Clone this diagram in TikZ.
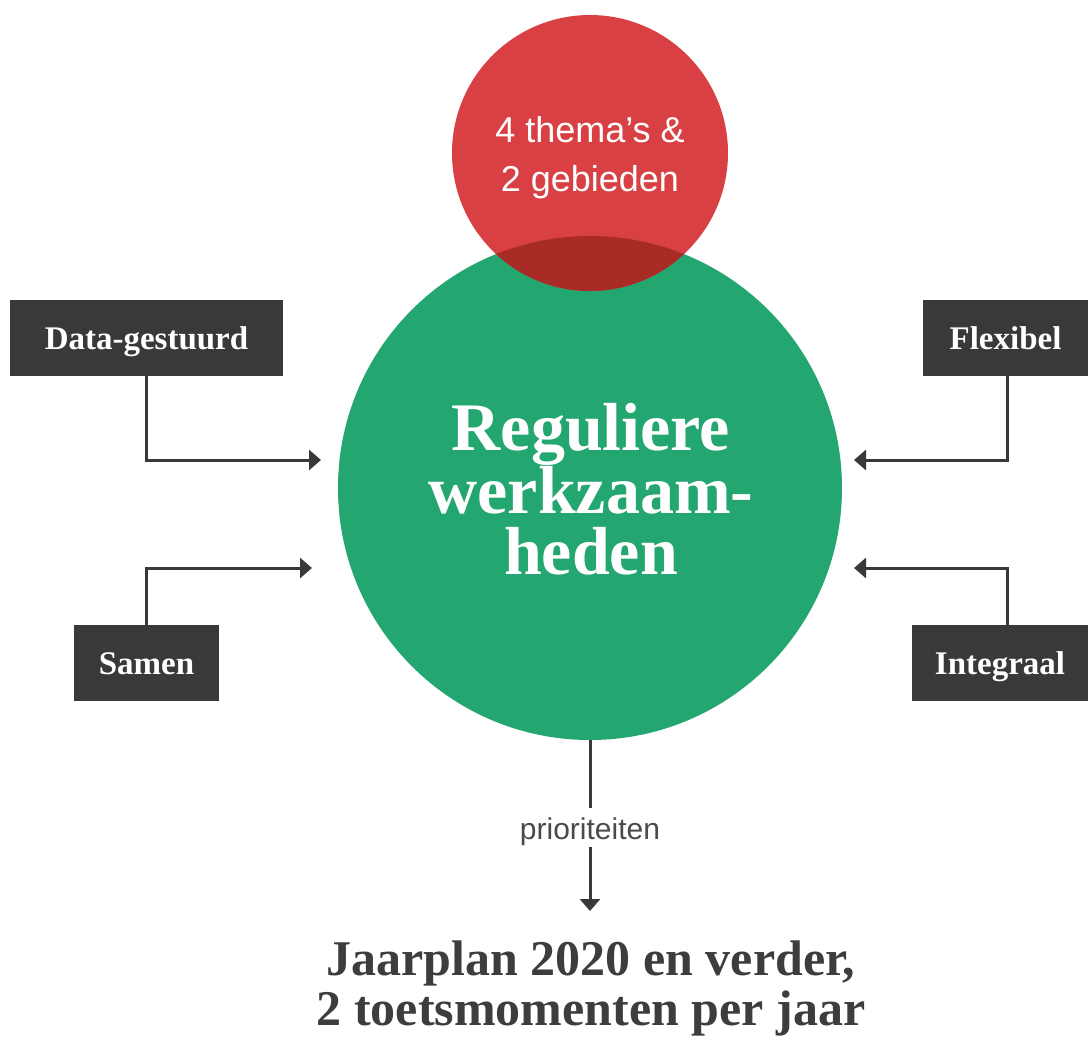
\documentclass[tikz,border=0pt]{standalone}
\usepackage{fontspec}
\setmainfont{Liberation Serif}
\newfontfamily\sansf{Liberation Sans}
\usetikzlibrary{arrows.meta}
\definecolor{grn}{HTML}{23A670}
\definecolor{rd}{HTML}{D84044}
\definecolor{ovl}{HTML}{A82B25}
\definecolor{dk}{HTML}{3A3938}
\definecolor{txtg}{HTML}{3D3D3D}
\definecolor{lbl}{HTML}{4A4A4A}
\begin{document}
\begin{tikzpicture}[x=1pt,y=-1pt,
  box/.style={fill=dk, text=white, minimum height=76pt, inner sep=0pt,
    text height=23pt, text depth=0pt,
    font=\fontsize{33}{40}\selectfont\bfseries},
  wire/.style={draw=dk, line width=3pt},
  conn/.style={wire, -{Triangle[width=20pt,length=12pt]}}]
\path[use as bounding box] (0,0) rectangle (1088,1037);
% circles
\node[circle, fill=grn, minimum size=504pt, inner sep=0pt] (green) at (590,488) {};
\node[circle, fill=rd, minimum size=276pt, inner sep=0pt] (red) at (590,153) {};
\begin{scope}
  \clip (590,488) circle (252pt);
  \fill[ovl] (590,153) circle (138pt);
\end{scope}
% circle texts
\node[text=white, align=center, inner sep=0pt,
  font=\sansf\fontsize{36}{49}\selectfont] (redtxt) at (590,158) {4 thema’s \&\\2 gebieden};
\node[text=white, align=center, inner sep=0pt,
  font=\bfseries\fontsize{68}{61}\selectfont] (grntxt) at (591,489) {Reguliere\\werkzaam-\\heden};
% boxes
\node[box, minimum width=273pt] (dg) at (146.5,338) {Data-gestuurd};
\node[box, minimum width=165pt] (fx) at (1005.5,338) {Flexibel};
\node[box, minimum width=145pt] (sm) at (146.5,663) {Samen};
\node[box, minimum width=176pt] (ig) at (1000,663) {Integraal};
% arrow targets
\coordinate (tdg) at (321,460);
\coordinate (tsm) at (312,568);
\coordinate (tfx) at (854,460);
\coordinate (tig) at (854,568);
\coordinate (igtop) at (1007,625);
\coordinate (fxbot) at (1007,376);
\draw[conn] (dg.south) |- (tdg);
\draw[conn] (sm.north) |- (tsm);
\draw[conn] (fxbot) |- (tfx);
\draw[conn] (igtop) |- (tig);
% bottom
\node[text=lbl, inner sep=0pt, font=\sansf\fontsize{30}{32}\selectfont, anchor=base] (prio) at (590,839) {prioriteiten};
\coordinate (g1) at (590,808);
\coordinate (g2) at (590,847);
\coordinate (tgt) at (590,911);
\draw[wire] (green.south) -- (g1);
\draw[conn] (g2) -- (tgt);
\node[text=txtg, align=center, inner sep=0pt,
  font=\bfseries\fontsize{50}{50}\selectfont] (jp) at (591,988) {Jaarplan 2020 en verder,\\2 toetsmomenten per jaar};
\end{tikzpicture}
\end{document}
